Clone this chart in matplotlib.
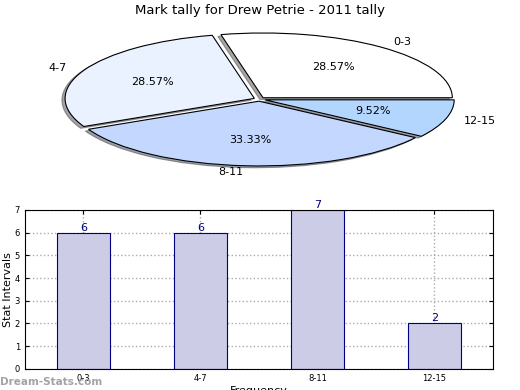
import numpy as np
import matplotlib
matplotlib.use('Agg')
import matplotlib.pyplot as plt

# dane
categories = ['0-3', '4-7', '8-11', '12-15']
counts = [6, 6, 7, 2]
pie_colors = ['#FFFFFF', '#EAF1FF', '#C4D8FF', '#B3D6FF']
explode = [0.03, 0.03, 0.03, 0.03]

fig = plt.figure(figsize=(5.2, 3.9), dpi=100)

# wykres kolowy
ax1 = fig.add_axes([0.044, 0.538, 0.91, 0.415])
wedges, texts, autotexts = ax1.pie(counts, labels=categories, colors=pie_colors,
                                   explode=explode, autopct='%1.2f%%',
                                   shadow={'ox': -0.012, 'oy': -0.02},
                                   startangle=0, counterclock=True,
                                   wedgeprops={'edgecolor': 'black', 'linewidth': 0.8},
                                   textprops={'fontsize': 8})
ax1.set_aspect('auto')
ax1.set_xlim(-1.25, 1.25)
ax1.set_ylim(-1.25, 1.25)
fig.text(0.5, 0.974, 'Mark tally for Drew Petrie - 2011 tally', fontsize=9.5,
         ha='center', va='center')

# wykres slupkowy
ax2 = fig.add_axes([0.048, 0.054, 0.9, 0.408])
x = np.arange(len(categories))
ax2.bar(x, counts, width=0.45, color='#CCCCE6', edgecolor='#000080', linewidth=0.8)
for xi, c in zip(x, counts):
    ax2.text(xi, c, str(c), ha='center', va='bottom', color='#000080', fontsize=8)
ax2.set_xlim(-0.5, 3.5)
ax2.set_ylim(0, 7)
ax2.set_xticks(x)
ax2.set_xticklabels(categories)
ax2.set_yticks(range(8))
ax2.tick_params(direction='in', labelsize=6, top=True, right=True, length=3)
ax2.grid(True, linestyle=':', color='#AAAAAA', linewidth=1)
ax2.set_axisbelow(True)
ax2.set_ylabel('Stat Intervals', fontsize=8, labelpad=1)
ax2.set_xlabel('Frequency', fontsize=8, labelpad=2)

fig.text(0.0, 0.012, 'Dream-Stats.com', fontsize=7.5, color='#999999',
         fontweight='bold', alpha=0.9)

fig.savefig('out.png', dpi=100)
